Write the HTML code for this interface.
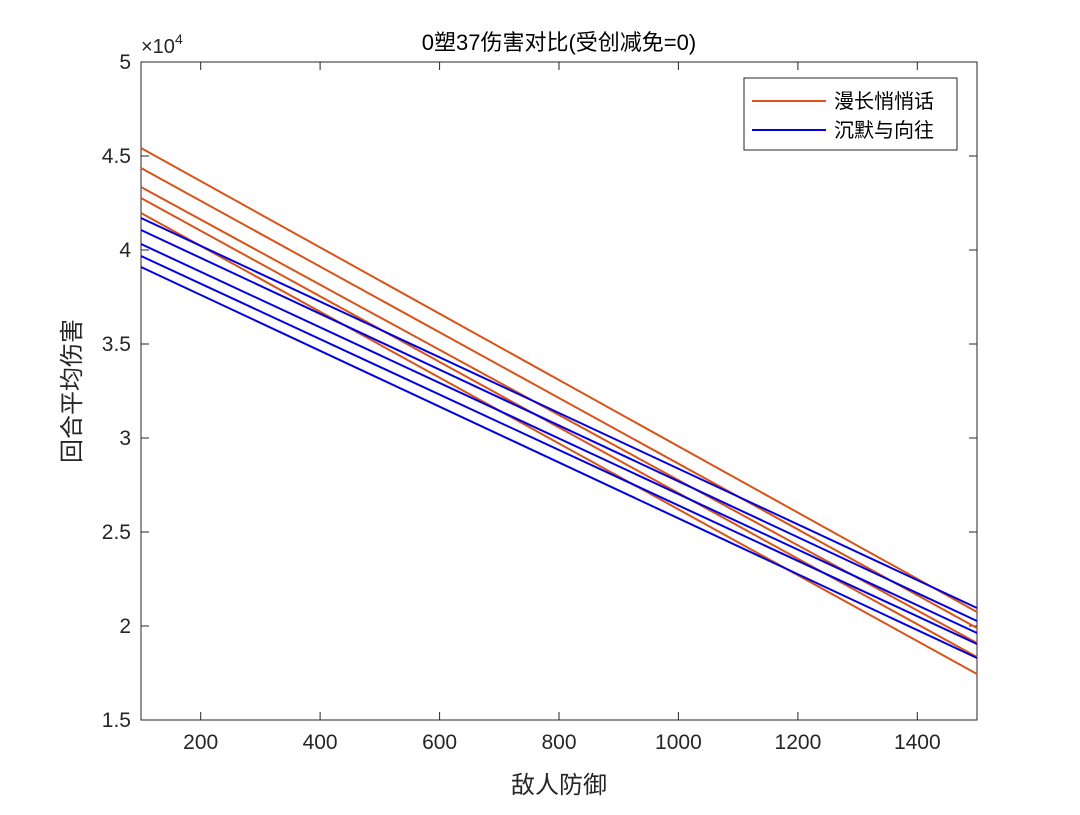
<!DOCTYPE html><html><head><meta charset="utf-8"><style>body{margin:0;background:#fff}svg{font-family:"Liberation Sans","Noto Sans CJK SC",sans-serif}</style></head><body>
<svg width="1080" height="810" xmlns="http://www.w3.org/2000/svg">
<rect x="141" y="62" width="836" height="658" fill="#fff" stroke="#262626" stroke-width="1"/>
<g stroke="#262626" stroke-width="1">
<line x1="200.7" y1="720" x2="200.7" y2="712"/><line x1="200.7" y1="62" x2="200.7" y2="70"/>
<line x1="320.1" y1="720" x2="320.1" y2="712"/><line x1="320.1" y1="62" x2="320.1" y2="70"/>
<line x1="439.6" y1="720" x2="439.6" y2="712"/><line x1="439.6" y1="62" x2="439.6" y2="70"/>
<line x1="559" y1="720" x2="559" y2="712"/><line x1="559" y1="62" x2="559" y2="70"/>
<line x1="678.4" y1="720" x2="678.4" y2="712"/><line x1="678.4" y1="62" x2="678.4" y2="70"/>
<line x1="797.9" y1="720" x2="797.9" y2="712"/><line x1="797.9" y1="62" x2="797.9" y2="70"/>
<line x1="917.3" y1="720" x2="917.3" y2="712"/><line x1="917.3" y1="62" x2="917.3" y2="70"/>
<line x1="141" y1="626" x2="149" y2="626"/><line x1="977" y1="626" x2="969" y2="626"/>
<line x1="141" y1="532" x2="149" y2="532"/><line x1="977" y1="532" x2="969" y2="532"/>
<line x1="141" y1="438" x2="149" y2="438"/><line x1="977" y1="438" x2="969" y2="438"/>
<line x1="141" y1="344" x2="149" y2="344"/><line x1="977" y1="344" x2="969" y2="344"/>
<line x1="141" y1="250" x2="149" y2="250"/><line x1="977" y1="250" x2="969" y2="250"/>
<line x1="141" y1="156" x2="149" y2="156"/><line x1="977" y1="156" x2="969" y2="156"/>
</g>
<g fill="#262626" font-size="21" text-anchor="middle">
<text x="200.7" y="749">200</text><text x="320.1" y="749">400</text><text x="439.6" y="749">600</text><text x="559" y="749">800</text><text x="678.4" y="749">1000</text><text x="797.9" y="749">1200</text><text x="917.3" y="749">1400</text>
</g>
<g fill="#262626" font-size="21" text-anchor="end">
<text x="131" y="727">1.5</text><text x="131" y="633">2</text><text x="131" y="539">2.5</text><text x="131" y="445">3</text><text x="131" y="351">3.5</text><text x="131" y="257">4</text><text x="131" y="163">4.5</text><text x="131" y="69">5</text>
</g>
<text x="141" y="53" font-size="20" fill="#262626">×10<tspan font-size="14" dy="-9">4</tspan></text>
<text x="559" y="50" font-size="22" text-anchor="middle" fill="#000">0塑37伤害对比(受创减免=0)</text>
<text x="559" y="793" font-size="24" text-anchor="middle" fill="#262626">敌人防御</text>
<text transform="translate(80,391) rotate(-90)" font-size="24" text-anchor="middle" fill="#262626">回合平均伤害</text>
<g stroke="#D95319" stroke-width="2" fill="none">
<line x1="141" y1="148" x2="977" y2="612"/>
<line x1="141" y1="168" x2="977" y2="628"/>
<line x1="141" y1="187" x2="977" y2="643"/>
<line x1="141" y1="198" x2="977" y2="657"/>
<line x1="141" y1="213" x2="977" y2="674"/>
</g>
<g stroke="#0000E0" stroke-width="2" fill="none">
<line x1="141" y1="218" x2="977" y2="608"/>
<line x1="141" y1="230" x2="977" y2="621"/>
<line x1="141" y1="244" x2="977" y2="633"/>
<line x1="141" y1="256" x2="977" y2="644"/>
<line x1="141" y1="267" x2="977" y2="658"/>
</g>
<rect x="744" y="78" width="213" height="72" fill="#fff" stroke="#262626" stroke-width="1"/>
<line x1="752" y1="101" x2="826" y2="101" stroke="#D95319" stroke-width="2"/>
<line x1="752" y1="130" x2="826" y2="130" stroke="#0000E0" stroke-width="2"/>
<text x="834" y="108" font-size="20" fill="#000">漫长悄悄话</text>
<text x="834" y="137" font-size="20" fill="#000">沉默与向往</text>
</svg></body></html>
